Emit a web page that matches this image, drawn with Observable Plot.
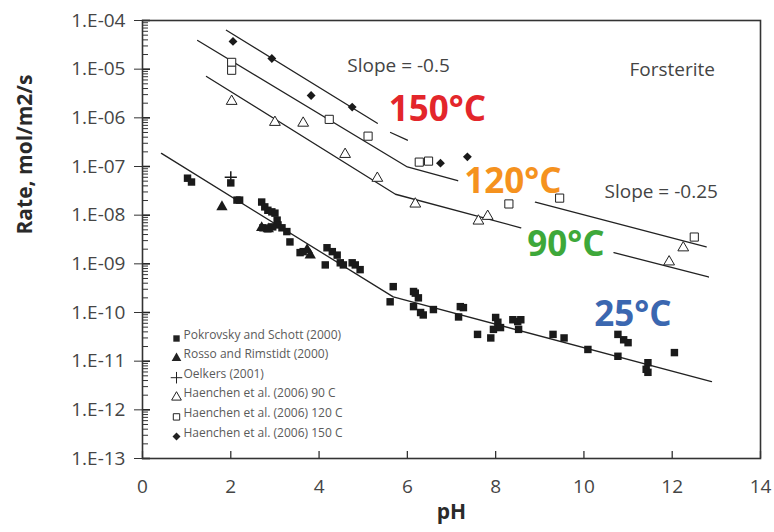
<!DOCTYPE html>
<html><head><meta charset="utf-8">
<script src="https://cdn.jsdelivr.net/npm/d3@7"></script>
<script src="https://cdn.jsdelivr.net/npm/@observablehq/plot@0.6"></script>
<style>
body{margin:0;background:#fff;}
#chart svg{font-family:"Open Sans",sans-serif;}
</style></head><body><div id="chart"></div>
<script>
// ---- axes ----
const xTicks = [0, 2, 4, 6, 8, 10, 12, 14];
const yTicks = [1e-13, 1e-12, 1e-11, 1e-10, 1e-9, 1e-8, 1e-7, 1e-6, 1e-5, 1e-4];

// ---- fitted lines (pH, rate) per segment ----
const line25  = [[0.43, 1.86e-7], [5.68, 2.09e-10], [12.89, 3.8e-12]];
const line90a = [[1.45, 7.08e-6], [5.73, 2.69e-8], [8.57, 5.5e-9]];
const line90b = [[10.68, 1.7e-9], [12.82, 5.37e-10]];
const line120a = [[1.25, 3.89e-5], [6.0, 9.77e-8], [7.14, 5.1e-8]];
const line120b = [[8.9, 1.86e-8], [12.77, 2.24e-9]];
const line150a = [[1.9, 6.31e-5], [5.32, 7.76e-7]];
const line150b = [[5.62, 5.0e-7], [6.0, 3.47e-7]];

// ---- data points (pH, rate) ----
const pokrovsky = [
  [1.02, 5.75e-8], [1.11, 4.8e-8], [2.0, 4.6e-8], [2.14, 2.04e-8], [2.2, 2.04e-8],
  [2.7, 1.86e-8], [2.77, 1.48e-8], [2.84, 1.26e-8], [2.93, 1.17e-8], [3.0, 1.1e-8],
  [3.05, 7.9e-9], [3.07, 6.3e-9], [2.73, 5.5e-9], [2.84, 5.25e-9], [2.95, 5.75e-9],
  [3.16, 5.5e-9], [3.27, 4.6e-9], [3.34, 2.82e-9], [3.57, 1.7e-9], [3.64, 1.78e-9],
  [4.14, 9.5e-10], [4.18, 2.14e-9], [4.3, 1.78e-9], [4.41, 1.51e-9], [4.48, 1.05e-9],
  [4.55, 9.5e-10], [4.75, 1.05e-9], [4.82, 9.5e-10], [4.93, 7.6e-10],
  [5.61, 1.66e-10], [5.68, 3.4e-10], [6.14, 2.7e-10], [6.18, 2.5e-10], [6.25, 2.0e-10],
  [6.14, 1.32e-10], [6.3, 1.0e-10], [6.36, 8.9e-11], [6.59, 1.15e-10],
  [7.16, 8.1e-11], [7.2, 1.32e-10], [7.27, 1.26e-10], [7.59, 3.55e-11], [7.89, 3.0e-11],
  [8.0, 7.9e-11], [8.05, 6.3e-11], [7.95, 4.5e-11], [8.11, 4.9e-11],
  [8.39, 7.1e-11], [8.5, 6.5e-11], [8.57, 7.1e-11], [8.52, 4.5e-11],
  [9.3, 3.55e-11], [9.55, 3.0e-11], [10.09, 1.74e-11],
  [10.77, 3.55e-11], [10.9, 2.75e-11], [11.0, 2.4e-11], [10.77, 1.26e-11],
  [11.45, 9.3e-12], [11.41, 6.8e-12], [11.45, 5.9e-12], [12.05, 1.5e-11]
];
const rosso = [[1.8, 1.48e-8], [2.7, 5.5e-9], [2.85, 5.2e-9], [3.73, 1.95e-9], [3.8, 1.51e-9]];
const oelkers = [[2.0, 6.0e-8]];
const haenchen90 = [
  [2.02, 2.19e-6], [3.0, 8.1e-7], [3.64, 7.8e-7], [4.59, 1.78e-7], [5.32, 5.75e-8],
  [6.18, 1.7e-8], [7.61, 7.6e-9], [7.82, 9.5e-9], [11.93, 1.1e-9], [12.25, 2.14e-9]
];
const haenchen120 = [
  [2.02, 1.38e-5], [2.02, 9.5e-6], [4.23, 9.3e-7], [5.11, 4.2e-7], [6.27, 1.23e-7],
  [6.48, 1.29e-7], [8.3, 1.7e-8], [9.45, 2.24e-8], [12.5, 3.55e-9]
];
const haenchen150 = [
  [2.05, 3.72e-5], [2.93, 1.66e-5], [3.82, 2.88e-6], [4.75, 1.66e-6], [6.75, 1.17e-7], [7.36, 1.58e-7]
];

// ---- annotations ----
const tempLabels = [
  {ph: 6.68, rate: 1.44e-6, text: "150°C", color: "#e3262b"},
  {ph: 8.39, rate: 4.8e-8,  text: "120°C", color: "#f5921e"},
  {ph: 9.59, rate: 2.45e-9, text: "90°C",  color: "#3ea83a"},
  {ph: 11.11, rate: 8.9e-11, text: "25°C", color: "#3b67b0"}
];
const noteLabels = [
  {ph: 5.8, rate: 1.15e-5, text: "Slope = -0.5"},
  {ph: 12.0, rate: 9.5e-6, text: "Forsterite"},
  {ph: 11.75, rate: 3.0e-8, text: "Slope = -0.25"}
];
const legendItems = [
  {label: "Pokrovsky and Schott (2000)", symbol: "square", fill: "#222", stroke: "none"},
  {label: "Rosso and Rimstidt (2000)", symbol: "triangle", fill: "#222", stroke: "none"},
  {label: "Oelkers (2001)", symbol: "plus", fill: "none", stroke: "#222"},
  {label: "Haenchen et al. (2006) 90 C", symbol: "triangle", fill: "#fff", stroke: "#222"},
  {label: "Haenchen et al. (2006) 120 C", symbol: "square", fill: "#fff", stroke: "#222"},
  {label: "Haenchen et al. (2006) 150 C", symbol: "diamond2", fill: "#222", stroke: "none"}
];

// ---- build tables ----
const segs = {line25, line90a, line90b, line120a, line120b, line150a, line150b};
const lineRows = Object.entries(segs).flatMap(([k, arr]) => arr.map(([ph, rate]) => ({ph, rate, seg: k})));
const rows = arr => arr.map(([ph, rate]) => ({ph, rate}));
const minorTicks = yTicks.slice(0, -1).flatMap(t => [2,3,4,5,6,7,8,9].map(m => t * m));
const fmt = d => "1.E-" + String(-Math.round(Math.log10(d))).padStart(2, "0");
const blank = () => "";

const legendMarks = legendItems.flatMap((d, i) => {
  const dy = -120 + i * 19.6;
  return [
    Plot.dot([d], {frameAnchor: "bottom-left", dx: 34, dy, symbol: d.symbol, fill: d.fill,
      stroke: d.stroke, r: d.symbol === "plus" ? 3.8 : 3.6, strokeWidth: 1}),
    Plot.text([d], {frameAnchor: "bottom-left", dx: 41, dy, text: "label", textAnchor: "start",
      fontSize: 12, fill: "#5a5a5a"})
  ];
});

const chart = Plot.plot({
  width: 774, height: 532,
  marginLeft: 142, marginRight: 14, marginTop: 20, marginBottom: 74,
  style: {fontFamily: '"Open Sans", sans-serif', fontSize: "15px", color: "#454545", background: "#fff"},
  x: {domain: [0, 14]},
  y: {type: "log", domain: [1e-13, 1e-4]},
  marks: [
    Plot.axisY({ticks: yTicks, tickFormat: fmt, tickSize: 8, tickPadding: 9, label: null, fontSize: 19, stroke: "#333"}),
    // inward ticks on y axis (minor and major)
    Plot.axisY({ticks: minorTicks, tickFormat: blank, tickSize: 6, dx: 6, label: null, stroke: "#333"}),
    Plot.axisY({ticks: yTicks, tickFormat: blank, tickSize: 8, dx: 8, label: null, stroke: "#222", strokeWidth: 1.6}),
    Plot.axisX({ticks: xTicks, tickSize: 0, tickPadding: 21, label: null, fontSize: 19}),
    // inward ticks on x axis
    Plot.axisX({ticks: xTicks, tickFormat: blank, tickSize: 7, dy: -7, label: null, stroke: "#333", strokeWidth: 1.3}),
    Plot.frame({stroke: "#333", strokeWidth: 1.6}),
    Plot.line(lineRows, {x: "ph", y: "rate", z: "seg", stroke: "#222", strokeWidth: 1.3}),
    Plot.dot(rows(pokrovsky), {x: "ph", y: "rate", symbol: "square", fill: "#1a1a1a", r: 4.2}),
    Plot.dot(rows(rosso), {x: "ph", y: "rate", symbol: "triangle", fill: "#1a1a1a", r: 4.2}),
    Plot.dot(rows(oelkers), {x: "ph", y: "rate", symbol: "plus", stroke: "#1a1a1a", r: 4, strokeWidth: 1.5}),
    Plot.dot(rows(haenchen90), {x: "ph", y: "rate", symbol: "triangle", fill: "#fff", stroke: "#222", r: 4, strokeWidth: 1}),
    Plot.dot(rows(haenchen120), {x: "ph", y: "rate", symbol: "square", fill: "#fff", stroke: "#222", r: 4.6, strokeWidth: 1}),
    Plot.dot(rows(haenchen150), {x: "ph", y: "rate", symbol: "diamond2", fill: "#1a1a1a", r: 4}),
    Plot.text(noteLabels, {x: "ph", y: "rate", text: "text", fontSize: 19, fill: "#444"}),
    Plot.text(tempLabels, {x: "ph", y: "rate", text: "text", fill: "color", fontSize: 35, fontWeight: "bold"}),
    ...legendMarks,
    Plot.text(["Rate, mol/m2/s"], {frameAnchor: "left", rotate: -90, dx: -117, dy: -5,
      fontSize: 21, fontWeight: "bold", fill: "#2a2a2a"}),
    Plot.text(["pH"], {frameAnchor: "bottom", dy: 60, fontSize: 21, fontWeight: "bold", fill: "#2a2a2a"})
  ]
});
document.getElementById("chart").append(chart);
</script></body></html>
